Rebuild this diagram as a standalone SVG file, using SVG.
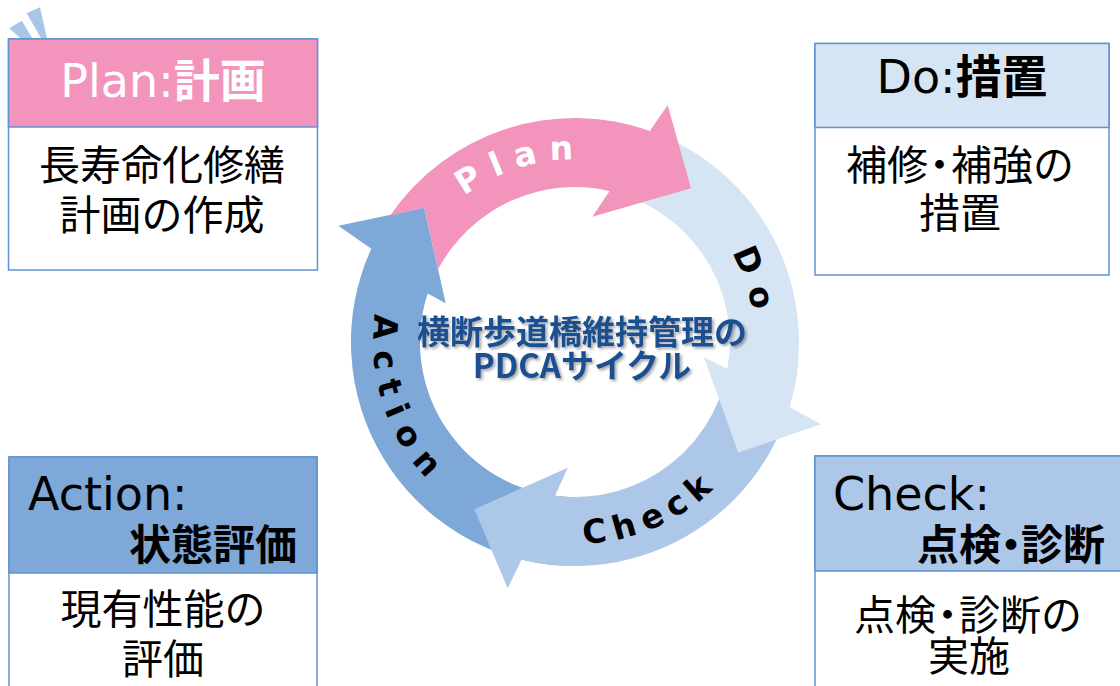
<svg xmlns="http://www.w3.org/2000/svg" width="1120" height="686" viewBox="0 0 1120 686">
<style>
.frame{stroke:#5f93cf;stroke-width:1.5}
.body{fill:#fff}
.hd{font-family:"DejaVu Sans","Noto Sans CJK JP",sans-serif;font-size:46px;fill:#000}
.hdj{font-family:"Noto Sans CJK JP",sans-serif;font-weight:bold}
.bt{font-family:"Noto Sans CJK JP",sans-serif;font-size:41px;fill:#000;text-anchor:middle}
.lbl{font-family:"DejaVu Sans",sans-serif;font-weight:bold;font-size:33px;fill:#000}
.title{font-family:"Noto Sans CJK JP",sans-serif;font-weight:bold;font-size:33px;fill:#1b4f8f;text-anchor:middle}
.deco{fill:#a9c5e8}
</style>
<defs>
<filter id="sh" x="-10%" y="-30%" width="120%" height="160%">
<feDropShadow dx="2" dy="2" stdDeviation="1.6" flood-color="#000" flood-opacity="0.35"/>
</filter>
<path id="pPlan" d="M 396.7 300.8 A 183 183 0 0 1 699.8 208.2"/>
<path id="pDo" d="M 612.4 165.9 A 180 180 0 0 1 708.8 462.4"/>
<path id="pCheck" d="M 457.4 503.8 A 198 198 0 0 0 773.9 362.9"/>
<path id="pAction" d="M 424.1 210.8 A 198 198 0 0 0 536.8 538.3"/>
</defs>

<g id="decoration">
<polygon class="deco" points="9.3,28.3 21.7,20.7 47.3,62.7"/>
<polygon class="deco" points="26.7,13.3 40,7.3 50.7,55"/>
</g>

<g id="plan-box">
<rect class="frame body" x="8.5" y="39" width="309" height="231"/>
<rect class="frame" x="8.5" y="39" width="309" height="88" fill="#f394bc"/>
<text class="hd" x="163" y="97" text-anchor="middle" style="fill:#fff">Plan:<tspan class="hdj">計画</tspan></text>
<text class="bt" x="162" y="180">長寿命化修繕</text>
<text class="bt" x="162" y="230">計画の作成</text>
</g>

<g id="do-box">
<rect class="frame body" x="815" y="43.5" width="294" height="231.5"/>
<rect class="frame" x="815" y="43.5" width="294" height="84" fill="#d6e5f4"/>
<text class="hd" x="962" y="93" text-anchor="middle">Do:<tspan class="hdj">措置</tspan></text>
<text class="bt" x="960" y="180">補修<tspan dx="-9">・</tspan><tspan dx="-9">補強の</tspan></text>
<text class="bt" x="960" y="228">措置</text>
</g>

<g id="action-box">
<rect class="frame body" x="9" y="457" width="308" height="240"/>
<rect class="frame" x="9" y="457" width="308" height="116" fill="#7da8d8"/>
<text class="hd" x="28" y="510">Action:</text>
<text class="hd hdj" x="297" y="560" text-anchor="end" style="font-size:42px">状態評価</text>
<text class="bt" x="163" y="624">現有性能の</text>
<text class="bt" x="163" y="674">評価</text>
</g>

<g id="check-box">
<rect class="frame body" x="815" y="456" width="310" height="240"/>
<rect class="frame" x="815" y="456" width="310" height="115" fill="#adc7e8"/>
<text class="hd" x="833" y="510">Check:</text>
<text class="hd hdj" x="1105" y="560" text-anchor="end" style="font-size:42px">点検<tspan dx="-11">・</tspan><tspan dx="-11">診断</tspan></text>
<text class="bt" x="968" y="630">点検<tspan dx="-9">・</tspan><tspan dx="-9">診断の</tspan></text>
<text class="bt" x="969" y="671">実施</text>
</g>

<g id="connectors">
<path id="arrow-action" fill="#7da8d8" d="M 563.3 565.7 A 224 224 0 0 1 371.3 248.7 L 338.3 225.7 L 424.3 207.7 L 445.7 303.3 L 427.7 293.6 A 155 155 0 0 0 566.9 496.8 Z"/>
<path id="arrow-check" fill="#adc7e8" d="M 798.1 361.5 A 224 224 0 0 1 521.6 559.5 L 507.7 588.3 L 474.3 509.3 L 567.7 467.7 L 555 495.7 A 155 155 0 0 0 729.4 355.5 Z"/>
<path id="arrow-do" fill="#d6e5f4" d="M 613.9 121.4 A 224 224 0 0 1 789.3 407.1 L 821 424.3 L 738.3 452.7 L 704 357.3 L 727.6 368.9 A 155 155 0 0 0 601.9 189.4 Z"/>
<path id="arrow-plan" fill="#f394bc" d="M 390.2 215.4 A 224 224 0 0 1 649.8 130.9 L 667.7 105 L 691 188.3 L 592.3 216.7 L 609.6 190.9 A 155 155 0 0 0 438.1 269.3 L 424.3 207.7 Z"/>
<text class="lbl" style="fill:#fff" letter-spacing="12"><textPath href="#pPlan" startOffset="50%" text-anchor="middle">Plan</textPath></text>
<text class="lbl" letter-spacing="12"><textPath href="#pDo" startOffset="50%" text-anchor="middle">Do</textPath></text>
<text class="lbl" letter-spacing="8"><textPath href="#pCheck" startOffset="50%" text-anchor="middle">Check</textPath></text>
<text class="lbl" letter-spacing="12"><textPath href="#pAction" startOffset="50%" text-anchor="middle">Action</textPath></text>
</g>

<g id="title" filter="url(#sh)">
<text class="title" x="582" y="344">横断歩道橋維持管理の</text>
<text class="title" x="582" y="378">PDCAサイクル</text>
</g>
</svg>
